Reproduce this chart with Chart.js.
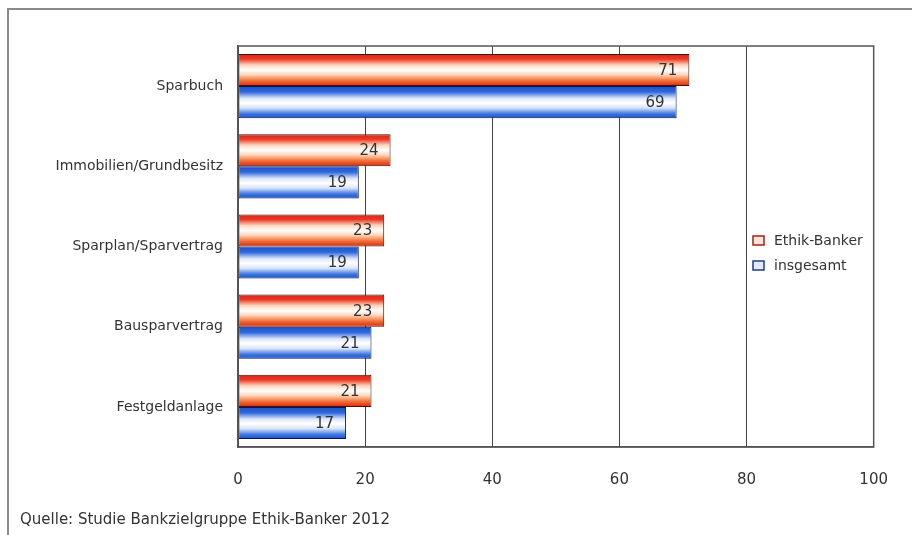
<!DOCTYPE html>
<html>
<head>
<meta charset="utf-8">
<script src="https://cdn.jsdelivr.net/npm/chart.js@4.4.1/dist/chart.umd.min.js"></script>
<style>
    html, body { margin: 0; padding: 0; background: #fff; }
    #wrap { position: relative; width: 912px; height: 535px; overflow: hidden; }
    #frame {
        position: absolute; left: 7px; top: 8px; width: 920px; height: 540px;
        border-left: 2px solid #8a8a8a; border-top: 2px solid #8a8a8a;
    }
    #source {
        position: absolute; left: 20px; top: 510px;
        font-family: "DejaVu Sans", sans-serif; font-size: 15px; color: #333;
    }
    canvas { position: absolute; left: 0; top: 0; }
</style>
</head>
<body>
<div id="wrap">
    <div id="frame"></div>
    <canvas id="chart" width="912" height="535"></canvas>
    <div id="source">Quelle: Studie Bankzielgruppe Ethik-Banker 2012</div>
</div>
<script>
const categories = ['Sparbuch', 'Immobilien/Grundbesitz', 'Sparplan/Sparvertrag', 'Bausparvertrag', 'Festgeldanlage'];
const ethikBanker = [71, 24, 23, 23, 21];
const insgesamt = [69, 19, 19, 21, 17];
const xTicks = [0, 20, 40, 60, 80, 100];

const FONT = '"DejaVu Sans", sans-serif';

// tube-like shading per bar: coloured edges, white core
const shades = {
    red: [[0, '#d4241a'], [0.16, '#ee3a24'], [0.34, '#fcd4bc'], [0.5, '#ffffff'], [0.64, '#fdd8bc'], [0.84, '#f26a30'], [1, '#d8261a']],
    blue: [[0, '#1a4fcc'], [0.18, '#2f68dc'], [0.38, '#dce6fa'], [0.52, '#ffffff'], [0.68, '#d8e4f9'], [0.86, '#3f78e2'], [1, '#194ec8']]
};

// scriptable so every bar gets its own options object
const placeholderFill = ctx => ctx.dataset.shade === 'red' ? '#e8341f' : '#2a62d8';

const barShading = {
    id: 'barShading',
    beforeDatasetsDraw(chart) {
        const ctx = chart.ctx;
        chart.data.datasets.forEach((ds, di) => {
            const stops = shades[ds.shade];
            chart.getDatasetMeta(di).data.forEach(bar => {
                const top = bar.y - bar.height / 2;
                const g = ctx.createLinearGradient(0, top, 0, top + bar.height);
                stops.forEach(([o, c]) => g.addColorStop(o, c));
                bar.options = Object.assign({}, bar.options, { backgroundColor: g });
            });
        });
    }
};

const plotFrame = {
    id: 'plotFrame',
    afterDraw(chart) {
        const { ctx, chartArea: a } = chart;
        ctx.save();
        ctx.strokeStyle = '#555';
        ctx.lineWidth = 1.5;
        ctx.strokeRect(a.left, a.top, a.right - a.left, a.bottom - a.top);
        ctx.restore();
    }
};

const valueLabels = {
    id: 'valueLabels',
    afterDatasetsDraw(chart) {
        const ctx = chart.ctx;
        ctx.save();
        ctx.font = '15px ' + FONT;
        ctx.fillStyle = '#333';
        ctx.textAlign = 'right';
        ctx.textBaseline = 'middle';
        chart.data.datasets.forEach((ds, di) => {
            chart.getDatasetMeta(di).data.forEach((bar, i) => {
                ctx.fillText(String(ds.data[i]), bar.x - 12, bar.y + 1);
            });
        });
        ctx.restore();
    }
};

const boxLegend = {
    id: 'boxLegend',
    afterDraw(chart) {
        const ctx = chart.ctx;
        const items = [
            { text: 'Ethik-Banker', edge: '#a0241a', fill: '#fbe3da' },
            { text: 'insgesamt', edge: '#1c3c8c', fill: '#e3ebfb' }
        ];
        ctx.save();
        ctx.font = '14px ' + FONT;
        ctx.textBaseline = 'middle';
        items.forEach((it, i) => {
            const y = 241 + i * 25;
            ctx.fillStyle = it.fill;
            ctx.fillRect(753, y - 5, 11, 9);
            ctx.strokeStyle = it.edge;
            ctx.lineWidth = 1.5;
            ctx.strokeRect(753, y - 5, 11, 9);
            ctx.fillStyle = '#333';
            ctx.fillText(it.text, 774, y);
        });
        ctx.restore();
    }
};

new Chart(document.getElementById('chart'), {
    type: 'bar',
    data: {
        labels: categories,
        datasets: [
            { label: 'Ethik-Banker', data: ethikBanker, shade: 'red', backgroundColor: placeholderFill, borderColor: '#4a1008', borderWidth: 1, borderSkipped: false },
            { label: 'insgesamt', data: insgesamt, shade: 'blue', backgroundColor: placeholderFill, borderColor: '#0a1848', borderWidth: 1, borderSkipped: false }
        ]
    },
    options: {
        indexAxis: 'y',
        responsive: false,
        animation: false,
        events: [],
        layout: { padding: { top: 46, right: 38, left: 0, bottom: 0 } },
        datasets: { bar: { categoryPercentage: 0.8, barPercentage: 1 } },
        scales: {
            x: {
                min: 0,
                max: 100,
                afterBuildTicks: axis => { axis.ticks = xTicks.map(v => ({ value: v })); },
                afterFit: axis => { axis.height = 88; },
                grid: { color: '#444', lineWidth: 1, drawTicks: false },
                border: { color: '#555', width: 1.5 },
                ticks: { padding: 24, color: '#333', font: { family: FONT, size: 15 } }
            },
            y: {
                afterFit: axis => { axis.width = 238; },
                grid: { display: false, drawTicks: false },
                border: { color: '#555', width: 1.5 },
                ticks: { padding: 15, color: '#333', font: { family: FONT, size: 14 } }
            }
        },
        plugins: {
            legend: { display: false },
            tooltip: { enabled: false }
        }
    },
    plugins: [barShading, plotFrame, valueLabels, boxLegend]
});
</script>
</body>
</html>
